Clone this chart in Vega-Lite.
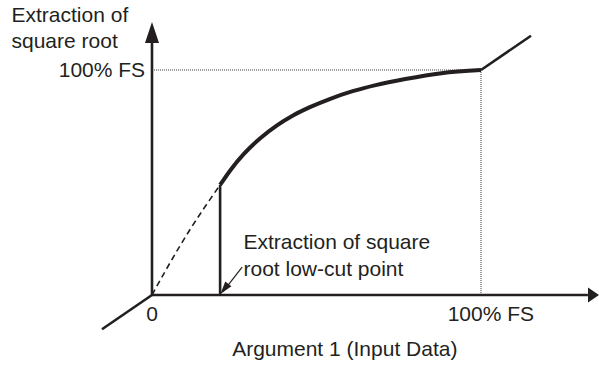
{
  "$schema": "https://vega.github.io/schema/vega-lite/v6.json",
  "width": 599,
  "height": 365,
  "autosize": "none",
  "padding": 0,
  "background": "white",
  "config": {"view": {"stroke": null}},
  "datasets": {
    "segments": [
      {"s": "yaxis", "i": 0, "x": 0, "y": 0},
      {"s": "yaxis", "i": 1, "x": 0, "y": 112},
      {"s": "xaxis", "i": 0, "x": 0, "y": 0},
      {"s": "xaxis", "i": 1, "x": 132.5, "y": 0},
      {"s": "lowcut", "i": 0, "x": 20.7, "y": 0},
      {"s": "lowcut", "i": 1, "x": 20.7, "y": 48.9},
      {"s": "linlow", "i": 0, "x": -15.2, "y": -15.2},
      {"s": "linlow", "i": 1, "x": 0, "y": 0},
      {"s": "linhigh", "i": 0, "x": 100, "y": 100},
      {"s": "linhigh", "i": 1, "x": 115.2, "y": 115.2}
    ],
    "guides": [
      {"s": "h", "i": 0, "x": 0, "y": 100},
      {"s": "h", "i": 1, "x": 100, "y": 100},
      {"s": "v", "i": 0, "x": 100, "y": 100},
      {"s": "v", "i": 1, "x": 100, "y": 0}
    ],
    "dashedCurve": [
      {"x": 0, "y": 0},
      {"x": 4, "y": 10.5},
      {"x": 8, "y": 20.6},
      {"x": 12, "y": 30.1},
      {"x": 16, "y": 39.0},
      {"x": 20.7, "y": 48.9}
    ],
    "solidCurve": [
      {"x": 20.7, "y": 48.9},
      {"x": 24, "y": 55.8},
      {"x": 28, "y": 62.8},
      {"x": 33, "y": 69.8},
      {"x": 38, "y": 75.4},
      {"x": 43, "y": 79.9},
      {"x": 48, "y": 83.5},
      {"x": 54, "y": 87.1},
      {"x": 61, "y": 90.6},
      {"x": 68, "y": 93.3},
      {"x": 77, "y": 96.0},
      {"x": 88, "y": 98.6},
      {"x": 100, "y": 100}
    ],
    "pointer": [
      {"i": 0, "x": 27.4, "y": 12.4},
      {"i": 1, "x": 21.6, "y": 1.5}
    ],
    "heads": [
      {"x": 0, "y": 116.7, "shape": "M0,-1L0.667,1L-0.667,1Z", "size": 441, "angle": 0},
      {"x": 134.2, "y": 0, "shape": "M1,0L-1,-1.36L-1,1.36Z", "size": 121, "angle": 0},
      {"x": 22.0, "y": 2.7, "shape": "M0,1L-0.6,-1L0.6,-1Z", "size": 169, "angle": 38}
    ],
    "labelsLeft": [
      {"x": -42.7, "y": 121.5, "t": "Extraction of"},
      {"x": -42.7, "y": 109.6, "t": "square root"},
      {"x": 27.8, "y": 20.4, "t": "Extraction of square"},
      {"x": 27.8, "y": 8.6, "t": "root low-cut point"}
    ],
    "labelsCenter": [
      {"x": 0, "y": -11.6, "t": "0"},
      {"x": 103.0, "y": -11.6, "t": "100% FS"},
      {"x": 58.6, "y": -27, "t": "Argument 1 (Input Data)"}
    ],
    "labelsRight": [
      {"x": -2.1, "y": 96.9, "t": "100% FS"}
    ]
  },
  "encoding": {
    "x": {"field": "x", "type": "quantitative", "axis": null, "scale": {"domain": [-46.2, 135.87], "nice": false, "zero": false}},
    "y": {"field": "y", "type": "quantitative", "axis": null, "scale": {"domain": [-31.11, 131.11], "nice": false, "zero": false}}
  },
  "layer": [
    {
      "data": {"name": "guides"},
      "mark": {"type": "line", "color": "#3a3a3a", "strokeWidth": 1, "strokeDash": [1, 1]},
      "encoding": {"detail": {"field": "s"}, "order": {"field": "i"}}
    },
    {
      "data": {"name": "segments"},
      "mark": {"type": "line", "color": "#231f20", "strokeWidth": 2.6, "strokeCap": "butt"},
      "encoding": {"detail": {"field": "s"}, "order": {"field": "i"}}
    },
    {
      "data": {"name": "dashedCurve"},
      "mark": {"type": "line", "color": "#231f20", "strokeWidth": 1.6, "strokeDash": [6, 4], "interpolate": "monotone"},
      "encoding": {}
    },
    {
      "data": {"name": "solidCurve"},
      "mark": {"type": "line", "color": "#231f20", "strokeWidth": 4, "interpolate": "monotone"},
      "encoding": {}
    },
    {
      "data": {"name": "pointer"},
      "mark": {"type": "line", "color": "#231f20", "strokeWidth": 1.2},
      "encoding": {"order": {"field": "i"}}
    },
    {
      "data": {"name": "heads"},
      "mark": {"type": "point", "filled": true, "opacity": 1, "color": "#231f20", "strokeWidth": 0},
      "encoding": {
        "shape": {"field": "shape", "type": "nominal", "scale": null},
        "size": {"field": "size", "type": "quantitative", "scale": null},
        "angle": {"field": "angle", "type": "quantitative", "scale": null}
      }
    },
    {
      "data": {"name": "labelsLeft"},
      "mark": {"type": "text", "align": "left", "baseline": "alphabetic", "font": "Liberation Sans", "fontSize": 21, "color": "#231f20"},
      "encoding": {"text": {"field": "t"}}
    },
    {
      "data": {"name": "labelsCenter"},
      "mark": {"type": "text", "align": "center", "baseline": "alphabetic", "font": "Liberation Sans", "fontSize": 21, "color": "#231f20"},
      "encoding": {"text": {"field": "t"}}
    },
    {
      "data": {"name": "labelsRight"},
      "mark": {"type": "text", "align": "right", "baseline": "alphabetic", "font": "Liberation Sans", "fontSize": 21, "color": "#231f20"},
      "encoding": {"text": {"field": "t"}}
    }
  ]
}
